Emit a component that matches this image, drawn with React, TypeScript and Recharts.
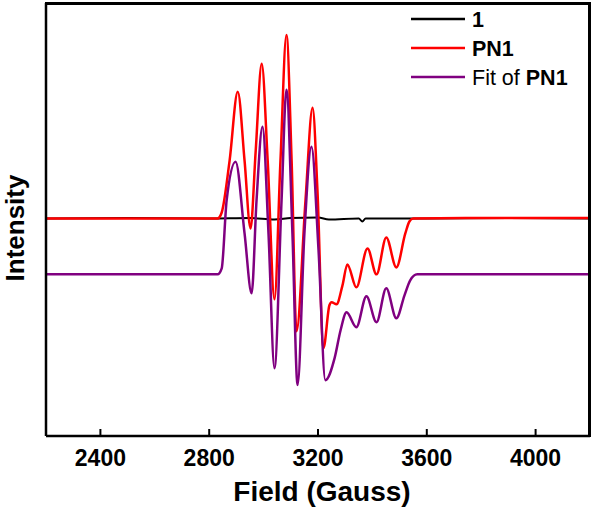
import React from 'react';
import { LineChart, Line, XAxis, YAxis, Legend } from 'recharts';

// field values (Gauss) and intensities (arb. units)
const sampleField = [2200, 2500, 2800, 2950, 3040, 3100, 3200, 3240, 3350, 3363, 3375, 3600, 3900, 4200];
const sampleIntensity = [0, 0.5, 0, 0.5, -1, 0.5, 1, -1, 0, -3, 0, 0, 0.5, 0];

const pn1Field = [
  2200, 2508, 2802, 2831, 2846, 2875, 2905, 2930, 2952, 2971, 2993, 3015, 3040, 3062, 3084, 3103,
  3121, 3154, 3180, 3198, 3220, 3242, 3250, 3268, 3290, 3308, 3341, 3382, 3415, 3451, 3488, 3521,
  3536, 3550, 3800, 4200,
];
const pn1Intensity = [
  0, 0, 0, 0, 6, 58, 127, 58, -10, 68, 155, 58, -81, 58, 184, 58,
  -113, 18, 111, 28, -130, -87, -84, -86, -67, -46, -69, -30, -56, -19, -49, -15,
  -3, 0, 0.5, 0.5,
];

const fitField = [
  2200, 2831, 2846, 2864, 2897, 2930, 2956, 2974, 2996, 3018, 3040, 3066, 3084, 3106, 3125, 3150,
  3176, 3202, 3227, 3261, 3283, 3305, 3341, 3378, 3415, 3451, 3488, 3518, 3539, 3565, 4200,
];
const fitIntensity = [
  -56, -56, -50, 18, 57, -15, -75, 18, 92, -15, -150, 18, 129, -15, -167, -15,
  72, -32, -162, -140, -112, -94, -109, -78, -104, -70, -100, -77, -62, -56, -56,
];

const fieldDomain = [2200, 4200];
const intensityDomain = [-218, 216];
const fieldTicks = [2400, 2800, 3200, 3600, 4000];
const seriesOrder = ['1', 'PN1', 'Fit of PN1'];

const zip = (xs: number[], ys: number[]) => xs.map((x, i) => ({ field: x, intensity: ys[i] }));

const font = '"Liberation Sans", Arial, sans-serif';

function LegendBox({ payload }: any) {
  const items = [...(payload || [])].sort(
    (a: any, b: any) => seriesOrder.indexOf(a.value) - seriesOrder.indexOf(b.value),
  );
  return (
    <svg width={190} height={95} style={{ display: 'block' }}>
      {items.map((p: any, i: number) => {
        const y = 14 + i * 29;
        const name: string = p.value;
        const fit = name.startsWith('Fit of ');
        return (
          <g key={name}>
            <line x1={11} x2={65} y1={y} y2={y} stroke={p.color} strokeWidth={2.5} />
            <text x={72} y={y} dy="0.36em" fontFamily={font} fontSize={21.5} fill="#000">
              {fit ? (
                <>
                  <tspan>Fit of </tspan>
                  <tspan fontWeight="bold">{name.slice(7)}</tspan>
                </>
              ) : (
                <tspan fontWeight="bold">{name}</tspan>
              )}
            </text>
          </g>
        );
      })}
    </svg>
  );
}

export default function App() {
  return (
    <div style={{ position: 'absolute', left: 0, top: 0, width: 600, height: 509 }}>
      <LineChart width={600} height={509} margin={{ top: 3, right: 10, bottom: 0, left: 0 }}>
        <XAxis
          dataKey="field"
          type="number"
          domain={fieldDomain}
          ticks={fieldTicks}
          allowDataOverflow
          height={73}
          axisLine={{ stroke: '#000', strokeWidth: 2.5 }}
          tickLine={{ stroke: '#000', strokeWidth: 2 }}
          tickSize={-7}
          tickMargin={21}
          tick={{ fill: '#000', fontSize: 23, fontWeight: 'bold', fontFamily: font }}
          label={{
            value: 'Field (Gauss)',
            position: 'insideBottom',
            offset: 8,
            dx: 4,
            fill: '#000',
            fontSize: 28,
            fontWeight: 'bold',
            fontFamily: font,
          }}
        />
        <YAxis
          type="number"
          domain={intensityDomain}
          allowDataOverflow
          width={46}
          tick={false}
          tickLine={false}
          axisLine={{ stroke: '#000', strokeWidth: 2.5 }}
          label={{
            content: () => (
              <text
                x={15}
                y={228}
                transform="rotate(-90 15 228)"
                textAnchor="middle"
                dominantBaseline="central"
                fontFamily={font}
                fontSize={26}
                fontWeight="bold"
                fill="#000"
              >
                Intensity
              </text>
            ),
          }}
        />
        <Legend
          layout="horizontal"
          verticalAlign="middle"
          align="center"
          content={<LegendBox />}
          wrapperStyle={{ left: 400, top: 5, width: 190, height: 95 }}
        />
        <Line
          data={zip(sampleField, sampleIntensity)}
          dataKey="intensity"
          name="1"
          type="monotone"
          stroke="#000000"
          strokeWidth={2}
          dot={false}
          isAnimationActive={false}
        />
        <Line
          data={zip(pn1Field, pn1Intensity)}
          dataKey="intensity"
          name="PN1"
          type="monotone"
          stroke="#ff0000"
          strokeWidth={2.5}
          dot={false}
          isAnimationActive={false}
        />
        <Line
          data={zip(fitField, fitIntensity)}
          dataKey="intensity"
          name="Fit of PN1"
          type="monotone"
          stroke="#800080"
          strokeWidth={2.5}
          dot={false}
          isAnimationActive={false}
        />
      </LineChart>
      {/* plot frame (top and right edges) */}
      <div
        style={{
          position: 'absolute',
          left: 45,
          top: 2,
          width: 546,
          height: 435,
          boxSizing: 'border-box',
          borderTop: '3px solid #000',
          borderRight: '3px solid #000',
          pointerEvents: 'none',
          zIndex: 10,
        }}
      />
    </div>
  );
}
